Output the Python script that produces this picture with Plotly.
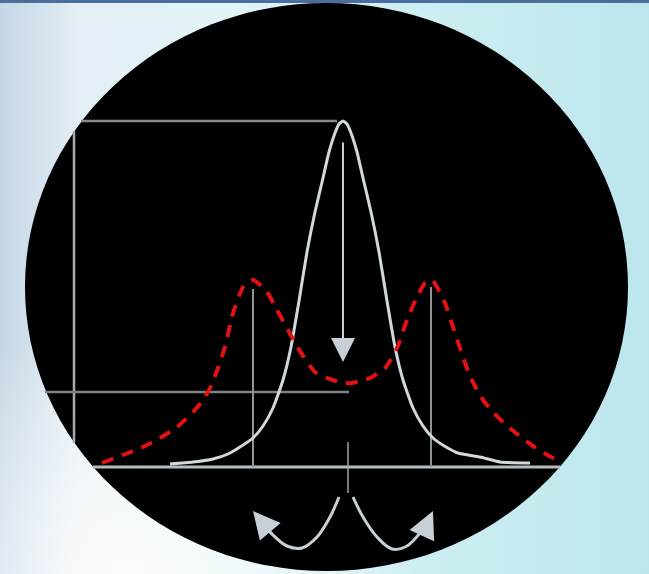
import base64
import plotly.graph_objects as go

# ---- data (x = offset from line centre, y = intensity above baseline) ----
white_x = [-173, -150, -130, -115, -103, -90, -80, -70, -60, -52, -44, -36, -28, -20, -14, -8, -4, 0,
           4, 8, 14, 20, 28, 36, 44, 52, 60, 70, 80, 90, 103, 115, 137, 157, 187]
white_y = [2, 4, 7, 12, 19, 28, 40, 58, 86, 119, 165, 214, 254, 288, 314, 333, 342, 345,
           342, 333, 314, 288, 254, 214, 165, 119, 86, 58, 40, 28, 19, 13, 9, 4, 3]

red_x = [-241, -220, -200, -183, -166, -150, -140, -132, -125, -118, -110, -100, -95, -90, -85, -76, -66,
         -55, -45, -28, -10, 0, 9, 27, 42, 54, 64, 74, 82, 89, 94, 102, 110, 115, 121, 127, 133, 140,
         150, 160, 174, 190, 210, 217]
red_y = [3, 11, 19, 28, 39, 54, 66, 80, 98, 119, 153, 179, 184, 186, 183, 174, 156,
         136, 118, 94, 86, 83, 83, 88, 98, 118, 146, 169, 183, 186, 179, 163, 139, 124, 106, 90, 78, 66,
         54, 44, 32, 20, 8, 5]

peak_top = 345          # white peak height
split_level = 74        # lower reference level
red_peaks_x = [-90, 88]
red_peaks_y = [177, 179]

left_arc_x = [-4, -13, -26, -41, -56, -70, -80]
left_arc_y = [-31, -51, -71, -82, -80, -69, -57]
right_arc_x = [10, 20, 34, 49, 64, 77, 85]
right_arc_y = [-31, -51, -71, -83, -80, -67, -56]
left_tip = (-90, -45)
right_tip = (90, -45)

# ---- background gradient ----
svg = ('<svg xmlns="http://www.w3.org/2000/svg" width="649" height="574">'
       '<defs><linearGradient id="g" x1="0" y1="0" x2="1" y2="0">'
       '<stop offset="0" stop-color="#c4d6e5"/><stop offset="0.12" stop-color="#e4eef5"/>'
       '<stop offset="0.35" stop-color="#e2f4f8"/><stop offset="0.65" stop-color="#cdeef3"/>'
       '<stop offset="1" stop-color="#bce6ec"/></linearGradient>'
       '<radialGradient id="r" cx="0.2" cy="1" r="0.45">'
       '<stop offset="0" stop-color="#ffffff" stop-opacity="0.85"/>'
       '<stop offset="1" stop-color="#ffffff" stop-opacity="0"/></radialGradient></defs>'
       '<rect width="649" height="574" fill="url(#g)"/>'
       '<rect width="649" height="574" fill="url(#r)"/></svg>')
bg_src = "data:image/svg+xml;base64," + base64.b64encode(svg.encode()).decode()

fig = go.Figure()

PALE = "#c6d0d6"

def seg(xs, ys, color, width):
    fig.add_trace(go.Scatter(x=xs, y=ys, mode="lines", line=dict(color=color, width=width),
                             hoverinfo="skip"))

# reference lines
seg([-262, -6], [peak_top, peak_top], "#858b8f", 2.5)       # top level
seg([-269, -269], [335, 23], "#a4acb0", 2.5)                 # vertical axis
seg([-298, 6], [split_level, split_level], "#7e8286", 2.5)   # lower level
seg([-250, 217], [-1, -1], "#b4bcc0", 3)                     # baseline
for px, py in zip(red_peaks_x, red_peaks_y):
    seg([px, px], [py, -1], "#8e9598", 2)
seg([5, 5], [24, -27], "#9aa2a6", 1.5)                       # centre tick

# curves
fig.add_trace(go.Scatter(x=white_x, y=white_y, mode="lines",
                         line=dict(color="#d2d9dd", width=3, shape="spline", smoothing=0.5),
                         hoverinfo="skip"))
fig.add_trace(go.Scatter(x=red_x, y=red_y, mode="lines",
                         line=dict(color="#e31212", width=4, dash="12px,9px", shape="spline",
                                   smoothing=0.6),
                         hoverinfo="skip"))

# bottom arcs
fig.add_trace(go.Scatter(x=left_arc_x, y=left_arc_y, mode="lines",
                         line=dict(color=PALE, width=3, shape="spline"), hoverinfo="skip"))
fig.add_trace(go.Scatter(x=right_arc_x, y=right_arc_y, mode="lines",
                         line=dict(color=PALE, width=3, shape="spline"), hoverinfo="skip"))

annotations = [
    dict(x=0, y=104, ax=0, ay=325, axref="x", ayref="y", xref="x", yref="y", text="",
         showarrow=True, arrowhead=2, arrowsize=2.4, arrowwidth=2, arrowcolor=PALE),
    dict(x=left_tip[0], y=left_tip[1], ax=left_arc_x[-1], ay=left_arc_y[-1], axref="x", ayref="y",
         xref="x", yref="y", text="", showarrow=True, arrowhead=2, arrowsize=1.8, arrowwidth=3,
         arrowcolor=PALE),
    dict(x=right_tip[0], y=right_tip[1], ax=right_arc_x[-1], ay=right_arc_y[-1], axref="x",
         ayref="y", xref="x", yref="y", text="", showarrow=True, arrowhead=2, arrowsize=1.8,
         arrowwidth=3, arrowcolor=PALE),
]

fig.update_layout(
    width=649, height=574, margin=dict(l=0, r=0, t=0, b=0),
    paper_bgcolor="#e0f0f5", plot_bgcolor="rgba(0,0,0,0)", showlegend=False,
    xaxis=dict(range=[-343, 306], visible=False, fixedrange=True),
    yaxis=dict(range=[-108, 466], visible=False, fixedrange=True),
    images=[dict(source=bg_src, xref="paper", yref="paper", x=0, y=1, sizex=1, sizey=1,
                 xanchor="left", yanchor="top", sizing="stretch", layer="below")],
    shapes=[
        dict(type="circle", xref="x", yref="y", x0=-318, x1=285, y0=-105, y1=463,
             fillcolor="#000000", line=dict(width=0), layer="below"),
        dict(type="rect", xref="paper", yref="paper", x0=0, x1=1, y0=1 - 3 / 574, y1=1,
             fillcolor="#4a6f9e", line=dict(width=0), layer="above"),
    ],
    annotations=annotations,
)

fig.write_html("out.html", config={"displayModeBar": False},
               post_script="document.body.style.margin='0';document.body.style.overflow='hidden';")
